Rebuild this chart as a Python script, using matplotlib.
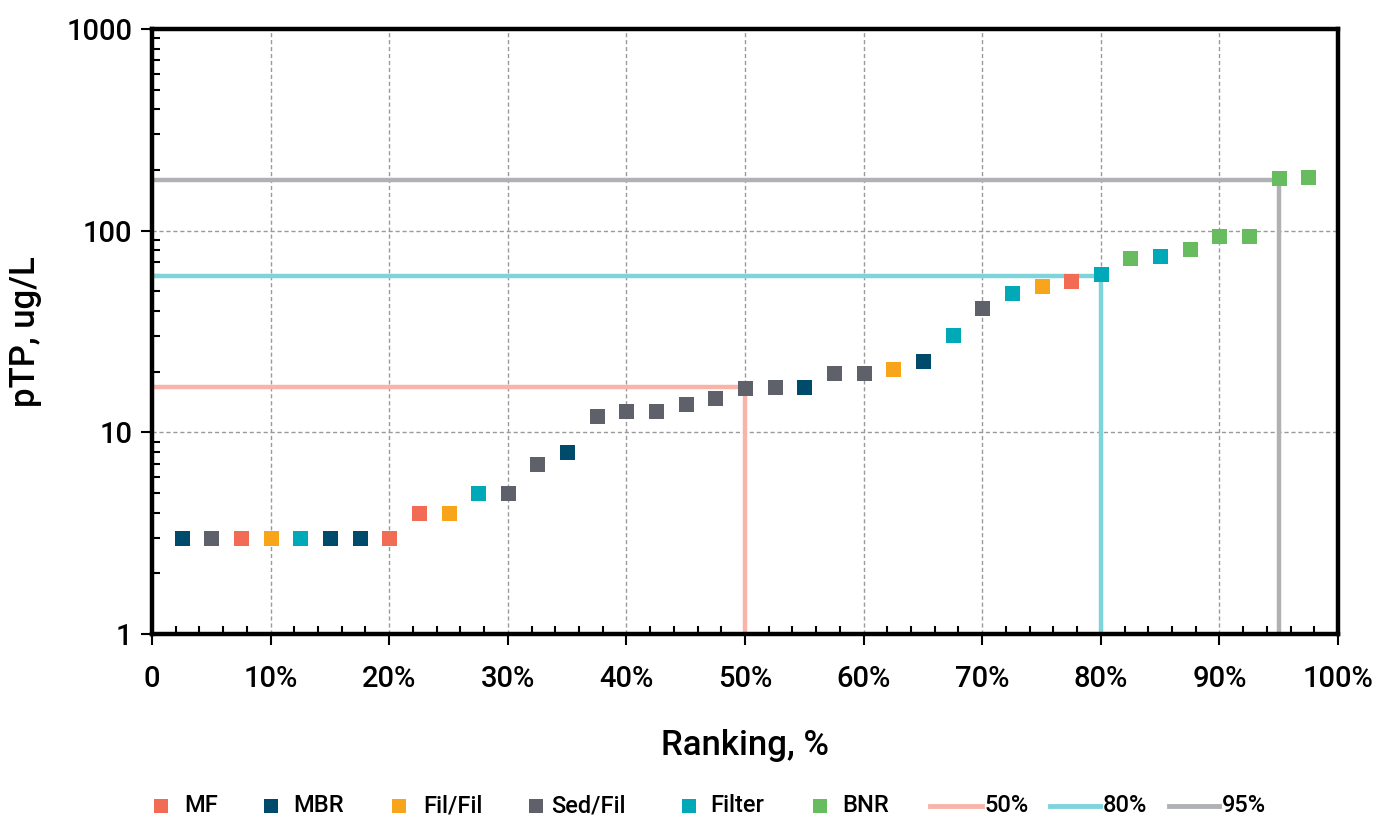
import matplotlib
matplotlib.use("Agg")
import matplotlib.pyplot as plt
from matplotlib.lines import Line2D
from matplotlib.ticker import FixedLocator, NullFormatter, LogLocator

plt.rcParams['font.family'] = ['Roboto', 'DejaVu Sans']

# ---- data ----
ranking = [2.5, 5.0, 7.5, 10.0, 12.5, 15.0, 17.5, 20.0, 22.5, 25.0,
           27.5, 30.0, 32.5, 35.0, 37.5, 40.0, 42.5, 45.0, 47.5, 50.0,
           52.5, 55.0, 57.5, 60.0, 62.5, 65.0, 67.5, 70.0, 72.5, 75.0,
           77.5, 80.0, 82.5, 85.0, 87.5, 90.0, 92.5, 95.0, 97.5]
ptp = [3, 3, 3, 3, 3, 3, 3, 3, 4, 4,
       5, 5, 7, 8, 12, 12.8, 12.7, 13.8, 14.8, 16.5,
       16.7, 16.7, 19.6, 19.6, 20.5, 22.5, 30.3, 41.2, 48.9, 53.0,
       56.1, 60.7, 72.9, 74.6, 80.8, 93.7, 93.7, 181.6, 183.7]
process = ["MBR", "Sed/Fil", "MF", "Fil/Fil", "Filter", "MBR", "MBR", "MF", "MF", "Fil/Fil",
           "Filter", "Sed/Fil", "Sed/Fil", "MBR", "Sed/Fil", "Sed/Fil", "Sed/Fil", "Sed/Fil", "Sed/Fil", "Sed/Fil",
           "Sed/Fil", "MBR", "Sed/Fil", "Sed/Fil", "Fil/Fil", "MBR", "Filter", "Sed/Fil", "Filter", "Fil/Fil",
           "MF", "Filter", "BNR", "Filter", "BNR", "BNR", "BNR", "BNR", "BNR"]
categories = ["MF", "MBR", "Fil/Fil", "Sed/Fil", "Filter", "BNR"]
cat_colors = ["#F26B55", "#004B6B", "#F9A51B", "#5E6169", "#00A9B8", "#66BC5E"]

pct_labels = ["50%", "80%", "95%"]
pct_rank = [50, 80, 95]
pct_value = [16.8, 59.6, 179]
pct_colors = ["#F8B4A8", "#7FD4DC", "#B0B1B4"]

x_ticks = [0, 10, 20, 30, 40, 50, 60, 70, 80, 90, 100]
x_ticklabels = ["0", "10%", "20%", "30%", "40%", "50%", "60%", "70%", "80%", "90%", "100%"]
y_ticks = [1, 10, 100, 1000]
y_ticklabels = ["1", "10", "100", "1000"]

W, H = 1393, 823

# ---- figure ----
fig = plt.figure(figsize=(W / 100, H / 100), dpi=100)
ax = fig.add_axes([152 / W, 1 - 634 / H, (1338 - 152) / W, (634 - 29) / H])
ax.set_yscale('log')
ax.set_xlim(0, 100)
ax.set_ylim(1, 1000)

ax.set_xticks(x_ticks)
ax.set_xticklabels(x_ticklabels)
ax.set_yticks(y_ticks)
ax.set_yticklabels(y_ticklabels)
ax.xaxis.set_minor_locator(FixedLocator([v for v in range(0, 101, 2) if v % 10 != 0]))
ax.yaxis.set_minor_locator(LogLocator(base=10, subs=range(2, 10)))
ax.yaxis.set_minor_formatter(NullFormatter())
ax.grid(True, which='major', color='#9A9A9A', linestyle=(0, (3, 2)), linewidth=1.0, zorder=0)

# reference lines
for lab, r, v, c in zip(pct_labels, pct_rank, pct_value, pct_colors):
    ax.plot([0, r, r], [v, v, 1], color=c, linewidth=3.2, solid_joinstyle='miter', zorder=2)

# points
for cat, col in zip(categories, cat_colors):
    xs = [x for x, p in zip(ranking, process) if p == cat]
    ys = [y for y, p in zip(ptp, process) if p == cat]
    ax.plot(xs, ys, linestyle='none', marker='s', markersize=10.8, color=col,
            markeredgewidth=0, zorder=3)

# spines / ticks
for s in ax.spines.values():
    s.set_linewidth(3.2)
    s.set_color('black')
    s.set_zorder(5)
ax.tick_params(axis='both', which='major', direction='out', length=8, width=1.5,
               labelsize=21, colors='black')
ax.tick_params(axis='x', which='major', pad=14)
ax.tick_params(axis='y', which='major', pad=6)
ax.tick_params(axis='both', which='minor', direction='in', length=6, width=1.5)
for t in ax.get_xticklabels() + ax.get_yticklabels():
    t.set_fontweight('medium')

ax.set_xlabel("Ranking, %", fontsize=25, fontweight='medium', labelpad=26)
ax.set_ylabel("pTP, ug/L", fontsize=25, fontweight='medium', labelpad=18)

# ---- legend (placed manually in figure pixel coordinates) ----
leg_y = 1 - 806 / H
marker_x = [161, 271, 399, 536, 689, 820]
marker_text_x = [184, 293, 423, 551, 710, 842]
for cat, col, mx, tx in zip(categories, cat_colors, marker_x, marker_text_x):
    fig.add_artist(Line2D([mx / W], [leg_y], linestyle='none', marker='s', markersize=10.5,
                          color=col, markeredgewidth=0, transform=fig.transFigure))
    fig.text(tx / W, leg_y, cat, fontsize=17, va='center', ha='left', fontweight='medium')
line_x0 = [930, 1050, 1169]
line_x1 = [982, 1100, 1219]
for lab, c, x0, x1 in zip(pct_labels, pct_colors, line_x0, line_x1):
    fig.add_artist(Line2D([x0 / W, x1 / W], [leg_y, leg_y], color=c, linewidth=3.5,
                          transform=fig.transFigure))
    fig.text((x1 + 3) / W, leg_y, lab, fontsize=17, va='center', ha='left', fontweight='medium')

fig.savefig("out.png", dpi=100)
